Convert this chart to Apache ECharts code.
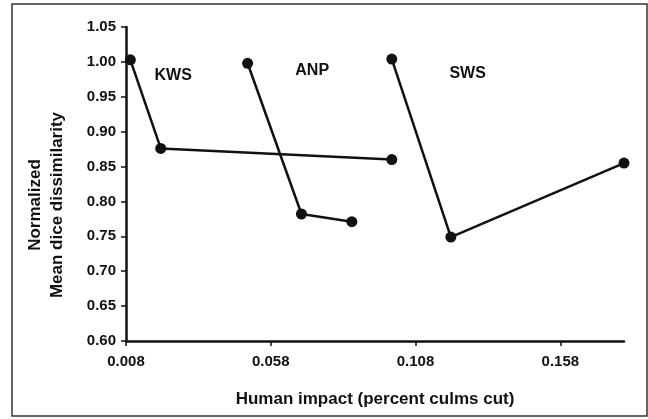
<!DOCTYPE html>
<html><head><meta charset="utf-8">
<script src="https://cdn.jsdelivr.net/npm/echarts@6/dist/echarts.min.js"></script>
<style>html,body{margin:0;padding:0;background:#fff}#c{width:648px;height:419px}</style>
</head><body><div id="c"></div>
<script>
const kwsX=[0.0095,0.0200,0.0998];
const kwsY=[1.003,0.876,0.860];
const anpX=[0.0500,0.0686,0.0860];
const anpY=[0.998,0.782,0.771];
const swsX=[0.0998,0.1202,0.1800];
const swsY=[1.004,0.749,0.855];
const xTicks=[0.008,0.058,0.108,0.158];
const labelNames=['KWS','ANP','SWS'];
const labelX=[0.0243,0.0723,0.1260];
const labelY=[0.981,0.987,0.983];

const FONT='"Liberation Sans", Arial, sans-serif';
const INK='#111';
function pts(xs,ys){return xs.map((x,i)=>[x,ys[i]]);}
function lineSeries(name,xs,ys){
  return {name,type:'line',data:pts(xs,ys),symbol:'circle',symbolSize:11,
    lineStyle:{color:INK,width:2.5},itemStyle:{color:INK},animation:false,z:3};
}
const chart=echarts.init(document.getElementById('c'),null,{renderer:'canvas'});
chart.setOption({
  animation:false,
  backgroundColor:'#fff',
  grid:{left:126,right:24,top:27,bottom:78,containLabel:false},
  xAxis:{type:'value',min:0.008,max:0.18,
    name:'Human impact (percent culms cut)',nameLocation:'middle',nameGap:50,
    nameTextStyle:{fontFamily:FONT,fontWeight:'bold',fontSize:17,color:INK},
    axisLine:{onZero:false,lineStyle:{color:INK,width:2.5}},
    axisTick:{show:true,length:5,customValues:xTicks,lineStyle:{color:INK,width:1.5}},
    axisLabel:{customValues:xTicks,margin:13,fontFamily:FONT,fontWeight:'bold',fontSize:15,color:INK,
      formatter:v=>v.toFixed(3)},
    splitLine:{show:false}},
  yAxis:{type:'value',min:0.6,max:1.05,interval:0.05,
    axisLine:{show:true,onZero:false,lineStyle:{color:INK,width:2.5}},
    axisTick:{show:true,length:5,lineStyle:{color:INK,width:1.5}},
    axisLabel:{margin:10,fontFamily:FONT,fontWeight:'bold',fontSize:15,color:INK,
      formatter:v=>v.toFixed(2)},
    splitLine:{show:false}},
  graphic:[
    {type:'rect',shape:{x:12,y:4,width:635,height:412},
      style:{fill:'none',stroke:'#333',lineWidth:1.5},silent:true,z:-1},
    {type:'text',x:46,y:205,rotation:Math.PI/2,
      style:{text:'Normalized\nMean dice dissimilarity',align:'center',verticalAlign:'middle',
        font:'bold 17px '+FONT,lineHeight:22,fill:INK}}
  ],
  series:[
    lineSeries('KWS',kwsX,kwsY),
    lineSeries('ANP',anpX,anpY),
    lineSeries('SWS',swsX,swsY),
    {type:'scatter',symbolSize:0,itemStyle:{color:INK,opacity:1},silent:true,
      data:labelNames.map((n,i)=>({name:n,value:[labelX[i],labelY[i]]})),
      label:{show:true,position:'inside',formatter:p=>p.name,textBorderWidth:0,opacity:1,
        fontFamily:FONT,fontWeight:'bold',fontSize:16,color:INK}}
  ]
});
</script></body></html>
